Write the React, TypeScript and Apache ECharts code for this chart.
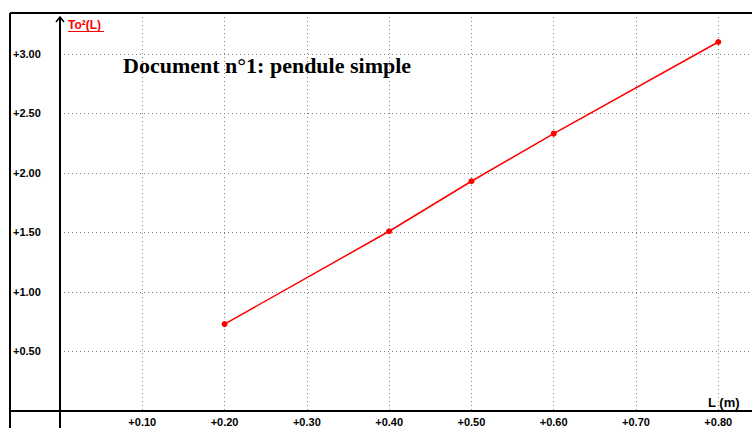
import React, { useEffect, useRef } from "react";
import * as echarts from "echarts";

const lengths = [0.2, 0.4, 0.5, 0.6, 0.8];
const periodSquared = [0.73, 1.51, 1.93, 2.33, 3.1];
const titleText = "Document n°1: pendule simple";
const yName = "To²(L)";
const xName = "L (m)";

export default function App() {
  const ref = useRef<HTMLDivElement>(null);
  useEffect(() => {
    if (!ref.current) return;
    const chart = echarts.init(ref.current, null, { renderer: "svg" });
    const fmt = (v: number) => "+" + v.toFixed(2);
    const grid = "#808080";
    const labelFont = {
      fontFamily: "Liberation Sans",
      fontWeight: "bold",
      fontSize: 11,
      color: "#000",
    };
    chart.setOption({
      animation: false,
      backgroundColor: "#ffffff",
      grid: { left: 60, right: 0, top: 17, bottom: 17, containLabel: false },
      xAxis: {
        type: "value",
        min: 0,
        max: 0.841,
        interval: 0.1,
        axisLine: { show: false },
        axisTick: { show: false },
        axisLabel: {
          formatter: fmt,
          showMinLabel: false,
          showMaxLabel: false,
          margin: 5,
          ...labelFont,
        },
        splitLine: {
          show: true,
          showMinLine: false,
          showMaxLine: false,
          lineStyle: { color: grid, type: [1, 3], width: 1 },
        },
      },
      yAxis: {
        type: "value",
        min: 0,
        max: 3.31,
        interval: 0.5,
        axisLine: { show: false },
        axisTick: { show: false },
        axisLabel: {
          formatter: fmt,
          showMinLabel: false,
          showMaxLabel: false,
          align: "left",
          margin: 47,
          ...labelFont,
        },
        splitLine: {
          show: true,
          showMinLine: false,
          showMaxLine: false,
          lineStyle: { color: grid, type: [1, 3], width: 1 },
        },
      },
      series: [
        {
          type: "line",
          data: lengths.map((l, i) => [l, periodSquared[i]]),
          lineStyle: { color: "#ff0000", width: 1.5 },
          itemStyle: { color: "#ff0000" },
          symbol: "circle",
          symbolSize: 6,
          z: 5,
        },
      ],
      graphic: [
        { type: "line", shape: { x1: 10, y1: 13, x2: 752, y2: 13 }, style: { stroke: "#000", lineWidth: 2 }, z: 10 },
        { type: "line", shape: { x1: 10, y1: 13, x2: 10, y2: 428 }, style: { stroke: "#000", lineWidth: 2 }, z: 10 },
        { type: "line", shape: { x1: 10, y1: 411, x2: 752, y2: 411 }, style: { stroke: "#000", lineWidth: 2 }, z: 10 },
        { type: "line", shape: { x1: 60, y1: 17, x2: 60, y2: 428 }, style: { stroke: "#000", lineWidth: 2 }, z: 10 },
        { type: "polyline", shape: { points: [[56, 22], [60, 17], [64, 22]] }, style: { stroke: "#000", lineWidth: 1.5, fill: null }, z: 10 },
        {
          type: "text",
          x: 68,
          y: 25,
          style: { text: yName, fill: "#ff0000", font: "bold 12px 'Liberation Sans'", verticalAlign: "middle", align: "left" },
          z: 10,
        },
        { type: "line", shape: { x1: 68, y1: 31.5, x2: 104, y2: 31.5 }, style: { stroke: "#ff0000", lineWidth: 1 }, z: 10 },
        {
          type: "text",
          x: 123,
          y: 65,
          style: { text: titleText, fill: "#000", font: "bold 22px 'Liberation Serif'", verticalAlign: "middle", align: "left" },
          z: 10,
        },
        {
          type: "text",
          x: 708,
          y: 402,
          style: { text: xName, fill: "#000", font: "bold 13px 'Liberation Sans'", verticalAlign: "middle", align: "left" },
          z: 10,
        },
      ],
    });
    return () => chart.dispose();
  }, []);
  return (
    <div
      ref={ref}
      style={{ position: "fixed", left: 0, top: 0, width: 752, height: 428, background: "#fff" }}
    />
  );
}
